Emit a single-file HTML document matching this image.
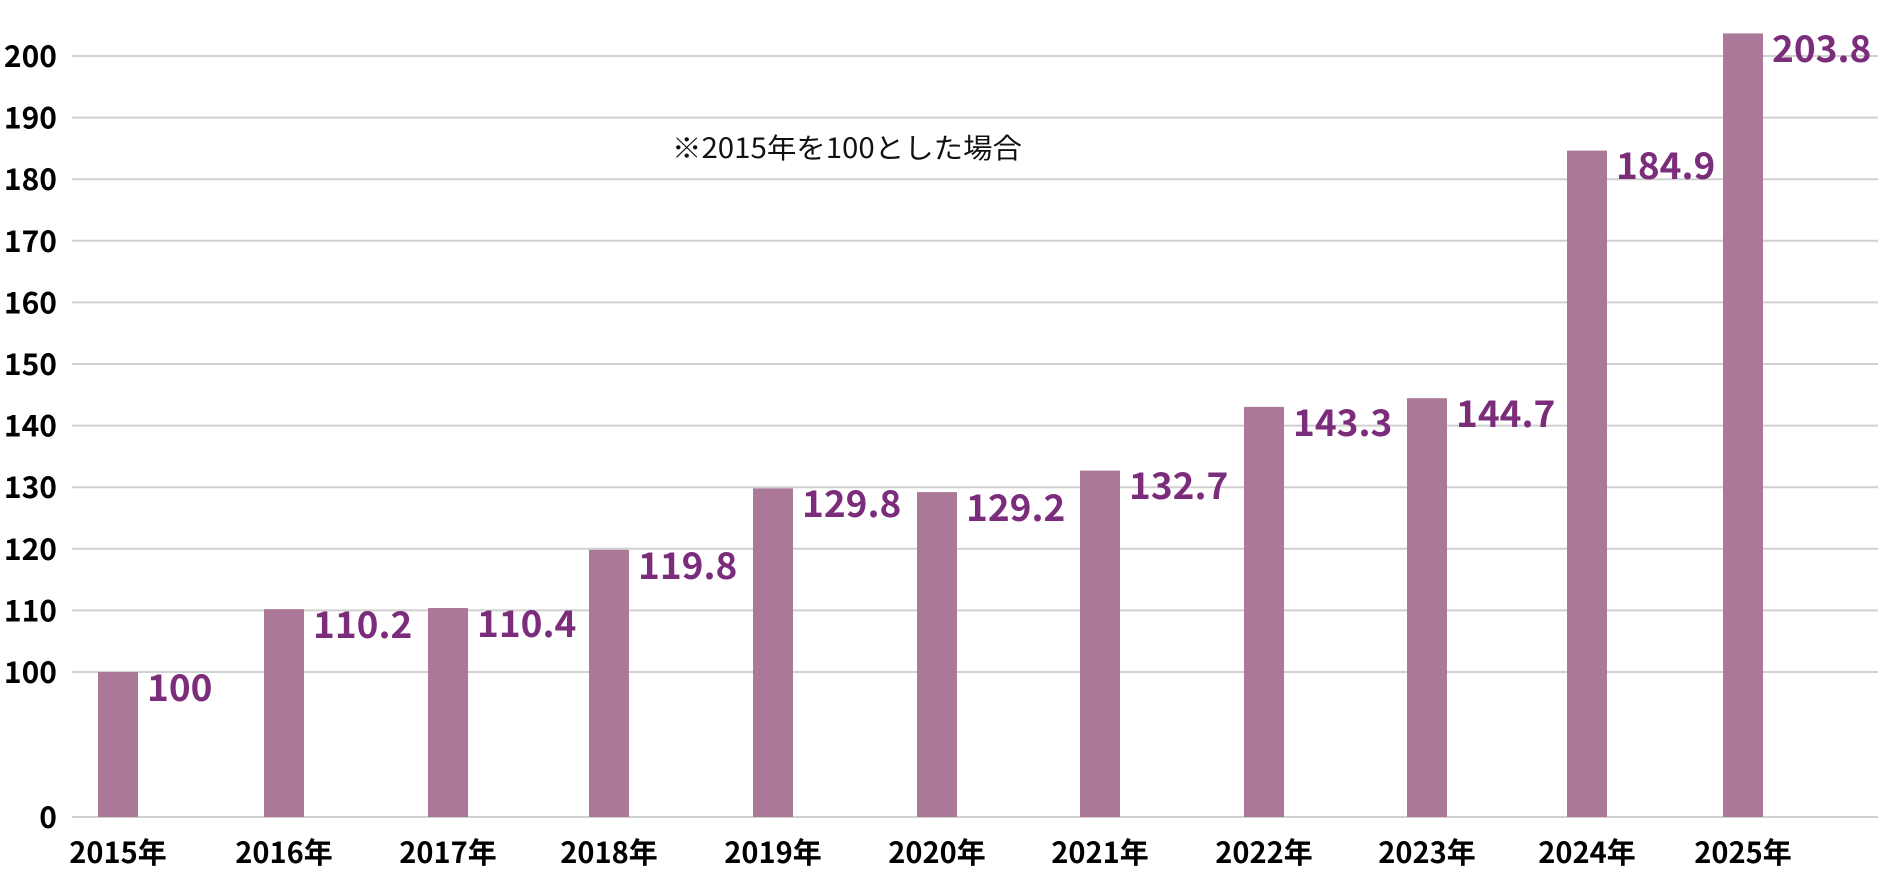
<!DOCTYPE html>
<html><head><meta charset="utf-8"><style>html,body{margin:0;padding:0;background:#fff}</style></head>
<body>
<svg width="1880" height="880" xmlns="http://www.w3.org/2000/svg" font-family="'Liberation Sans','Noto Sans CJK JP',sans-serif">
<g stroke="#d0d0d0" stroke-width="2">
<line x1="72" x2="1878" y1="56" y2="56"/>
<line x1="72" x2="1878" y1="117.6" y2="117.6"/>
<line x1="72" x2="1878" y1="179.2" y2="179.2"/>
<line x1="72" x2="1878" y1="240.8" y2="240.8"/>
<line x1="72" x2="1878" y1="302.4" y2="302.4"/>
<line x1="72" x2="1878" y1="364" y2="364"/>
<line x1="72" x2="1878" y1="425.6" y2="425.6"/>
<line x1="72" x2="1878" y1="487.2" y2="487.2"/>
<line x1="72" x2="1878" y1="548.8" y2="548.8"/>
<line x1="72" x2="1878" y1="610.4" y2="610.4"/>
<line x1="72" x2="1878" y1="672" y2="672"/>
<line x1="72" x2="1878" y1="817" y2="817"/>
</g>
<g font-family="'Noto Sans CJK JP',sans-serif" font-weight="bold" font-size="30" fill="#000" text-anchor="end">
<text x="57" y="67">200</text><text x="57" y="128.6">190</text><text x="57" y="190.2">180</text>
<text x="57" y="251.8">170</text><text x="57" y="313.4">160</text><text x="57" y="375">150</text>
<text x="57" y="436.6">140</text><text x="57" y="498.2">130</text><text x="57" y="559.8">120</text>
<text x="57" y="621.4">110</text><text x="57" y="683">100</text><text x="57" y="828">0</text>
</g>
<g fill="#ab7898">
<rect x="98" y="672" width="40" height="145"/>
<rect x="264" y="609.2" width="40" height="207.8"/>
<rect x="428" y="608" width="40" height="209"/>
<rect x="589" y="549.8" width="40" height="267.2"/>
<rect x="753" y="488.4" width="40" height="328.6"/>
<rect x="917" y="492.1" width="40" height="324.9"/>
<rect x="1080" y="470.6" width="40" height="346.4"/>
<rect x="1244" y="406.9" width="40" height="410.1"/>
<rect x="1407" y="398.2" width="40" height="418.8"/>
<rect x="1567" y="150.6" width="40" height="666.4"/>
<rect x="1723" y="33.4" width="40" height="783.6"/>
</g>
<g font-family="'Noto Sans CJK JP',sans-serif" font-weight="bold" font-size="37" fill="#7b2d7b">
<text x="147" y="701">100</text>
<text x="313" y="638">110.2</text>
<text x="477" y="637">110.4</text>
<text x="638" y="579">119.8</text>
<text x="802" y="517">129.8</text>
<text x="966" y="521">129.2</text>
<text x="1129" y="499">132.7</text>
<text x="1293" y="436">143.3</text>
<text x="1456" y="427">144.7</text>
<text x="1616" y="179">184.9</text>
<text x="1772" y="62">203.8</text>
</g>
<g font-family="'Noto Sans CJK JP',sans-serif" font-weight="bold" font-size="29" fill="#000" text-anchor="middle">
<text x="118" y="863">2015年</text><text x="284" y="863">2016年</text><text x="448" y="863">2017年</text>
<text x="609" y="863">2018年</text><text x="773" y="863">2019年</text><text x="937" y="863">2020年</text>
<text x="1100" y="863">2021年</text><text x="1264" y="863">2022年</text><text x="1427" y="863">2023年</text>
<text x="1587" y="863">2024年</text><text x="1743" y="863">2025年</text>
</g>
<text x="672" y="158" font-family="'Noto Sans CJK JP',sans-serif" font-size="28" fill="#111" textLength="350" lengthAdjust="spacingAndGlyphs">※2015年を100とした場合</text>
</svg>
</body></html>
